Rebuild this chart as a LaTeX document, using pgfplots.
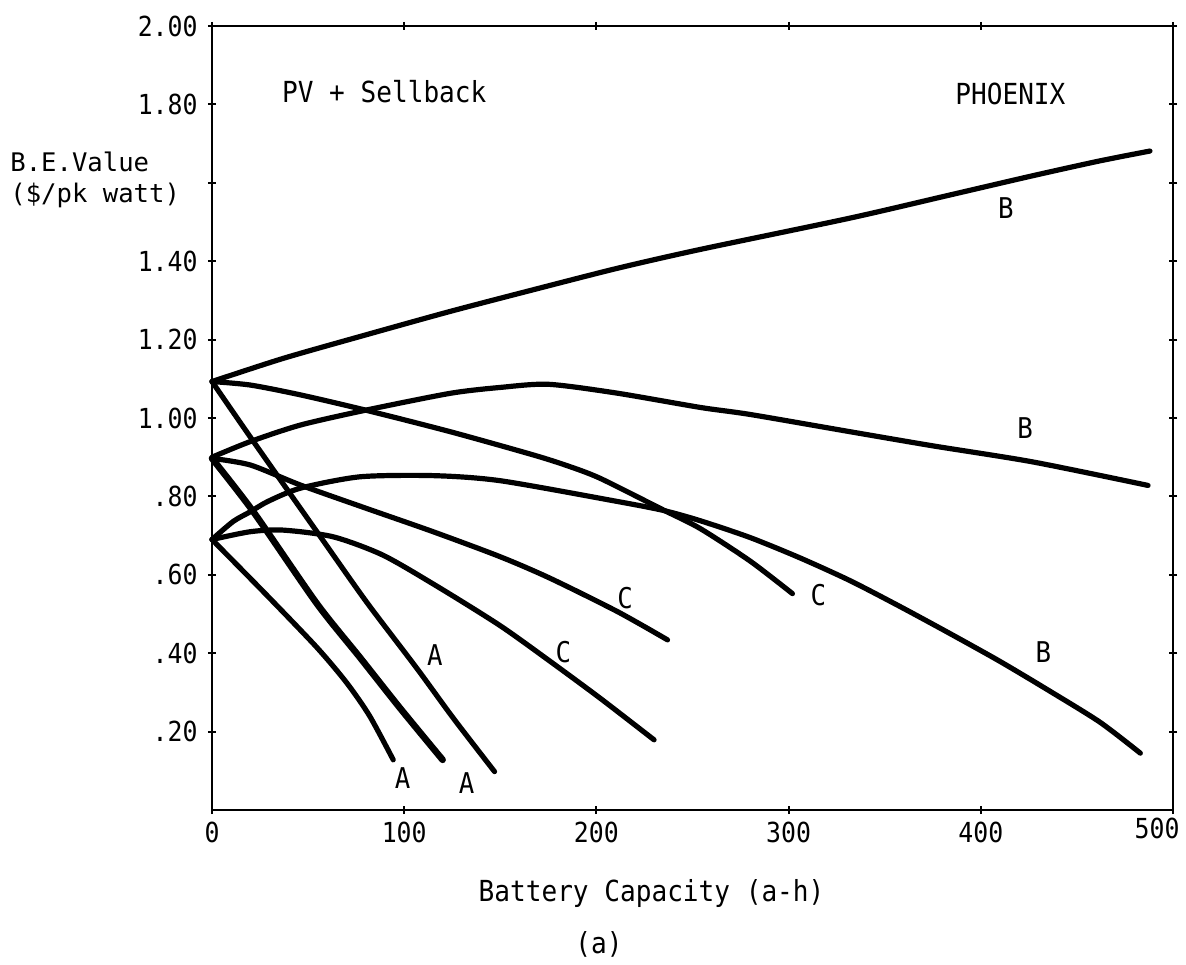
\documentclass[border=0pt]{standalone}
\usepackage{fontspec}
\setmainfont[FakeStretch=0.9]{DejaVu Sans Mono}
\newfontfamily\ylabfont{DejaVu Sans Mono}
\usepackage{pgfplots}
\pgfplotsset{compat=1.18}
\begin{document}
\begin{tikzpicture}
\useasboundingbox (-106pt,-77pt) rectangle (487pt,405pt);
\begin{axis}[
  at={(0pt,0pt)}, anchor=south west,
  scale only axis, width=480.5pt, height=392pt,
  xmin=0, xmax=500, ymin=0, ymax=2,
  axis line style={line width=1.3pt},
  xtick={0,100,200,300,400,500},
  xticklabels={0,100,200,300,400,{}},
  ytick={0.2,0.4,0.6,0.8,1.0,1.2,1.4,1.6,1.8,2.0},
  yticklabels={.20,.40,.60,.80,1.00,1.20,1.40,{},1.80,2.00},
  tick align=center, tickpos=both, major tick length=4pt,
  every tick/.style={line width=1pt, black},
  xticklabel style={font=\fontsize{13.8}{15}\selectfont, inner sep=0pt, anchor=north, yshift=-4pt},
  yticklabel style={font=\fontsize{13.8}{15}\selectfont, inner sep=0pt, anchor=east, xshift=-5pt},
  no markers,
  cycle list={{black}},
  every axis plot/.append style={line width=2.6pt, line cap=round, line join=round, smooth, tension=0.45},
  clip=false,
]
% B curves
\addplot coordinates {(0,1.093) (37,1.152) (80,1.212) (124,1.272) (167,1.327) (211,1.382) (254,1.430) (332,1.510) (384,1.569) (427,1.618) (462,1.656) (488,1.681)};
\addplot coordinates {(0,0.900) (20,0.940) (46,0.982) (80,1.020) (124,1.063) (150,1.078) (175,1.086) (210,1.064) (254,1.027) (280,1.009) (332,0.965) (375,0.929) (427,0.888) (487,0.828)};
\addplot coordinates {(0,0.690) (11,0.736) (20,0.761) (29,0.787) (46,0.821) (77,0.850) (115,0.853) (150,0.840) (211,0.787) (235,0.764) (254,0.738) (280,0.695) (306,0.643) (332,0.585) (358,0.519) (384,0.450) (410,0.379) (436,0.303) (462,0.224) (483,0.145)};
% C curves
\addplot coordinates {(0,1.093) (20,1.084) (46,1.059) (80,1.020) (124,0.965) (167,0.906) (185,0.878) (202,0.846) (235,0.765) (254,0.718) (280,0.635) (302,0.552)};
\addplot coordinates {(0,0.897) (20,0.880) (46,0.829) (80,0.770) (115,0.710) (150,0.646) (176,0.591) (211,0.506) (237,0.434)};
\addplot coordinates {(0,0.690) (20,0.710) (37,0.714) (63,0.697) (89,0.650) (118,0.568) (150,0.470) (176,0.379) (202,0.285) (230,0.179)};
% A curves
\addplot coordinates {(0,0.690) (28.5,0.548) (54.5,0.415) (70,0.325) (82,0.240) (94.3,0.128)};
\addplot+[line width=3.3pt] coordinates {(0,0.897) (21.5,0.761) (54.5,0.527) (77,0.389) (98,0.259) (120,0.128)};
\addplot coordinates {(0,1.093) (21,0.944) (57,0.693) (80.5,0.530) (106.5,0.362) (125.6,0.234) (147,0.098)};
% curve labels
\begin{scope}[every node/.style={font=\fontsize{14.3}{16}\selectfont, inner sep=0pt}]
\node at (axis cs:413,1.535) {B};
\node at (axis cs:423,0.974) {B};
\node at (axis cs:432.5,0.404) {B};
\node at (axis cs:315.5,0.548) {C};
\node at (axis cs:214.9,0.540) {C};
\node at (axis cs:182.8,0.404) {C};
\node at (axis cs:116,0.395) {A};
\node at (axis cs:99.2,0.081) {A};
\node at (axis cs:132.5,0.068) {A};
\end{scope}
\node[font=\fontsize{13.8}{15}\selectfont, inner sep=0pt, anchor=north] at ([yshift=-4pt]axis cs:491.7,0) {500};
\end{axis}
\begin{scope}[every node/.style={font=\fontsize{14.5}{16}\selectfont, inner sep=0pt}]
\node[anchor=base west] at (34.85pt,353.65pt) {PV + Sellback};
\node[anchor=base west] at (371.5pt,352.5pt) {PHOENIX};
\node[anchor=base west] at (133.15pt,-45.85pt) {Battery Capacity (a-h)};
\node[anchor=base west] at (181.5pt,-71.5pt) {(a)};
\end{scope}
\begin{scope}[every node/.style={font=\ylabfont\fontsize{12.8}{15}\selectfont, inner sep=0pt}]
\node[anchor=base west] at (-101pt,319.15pt) {B.E.Value};
\node[anchor=base west] at (-101pt,303.5pt) {(\$/pk watt)};
\end{scope}
\end{tikzpicture}
\end{document}
